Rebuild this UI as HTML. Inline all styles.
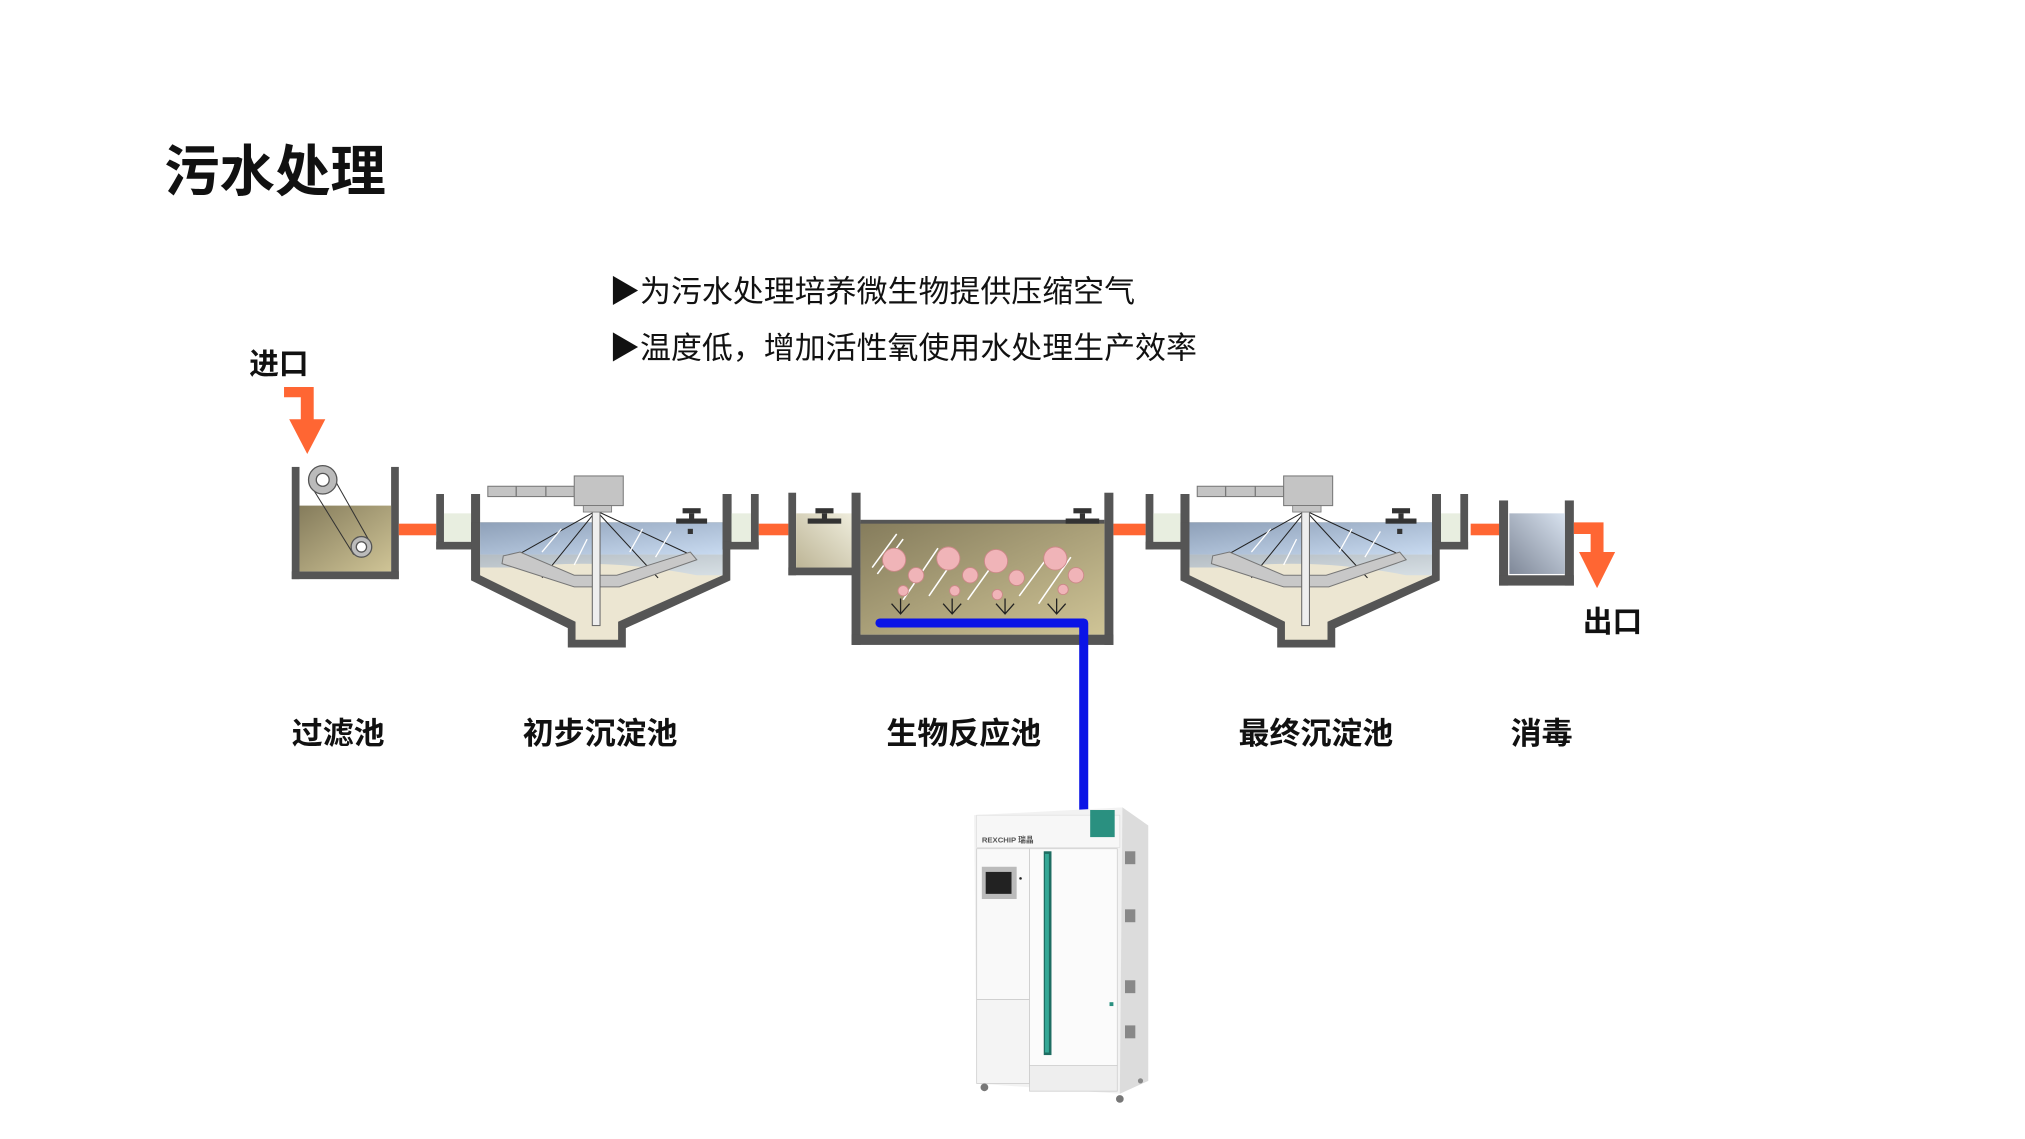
<!DOCTYPE html>
<html><head><meta charset="utf-8"><style>
html,body{margin:0;padding:0;background:#fff;}
svg{display:block}
text{font-family:"Liberation Sans","Noto Sans CJK SC",sans-serif;}
</style></head><body>
<svg width="2025" height="1139" viewBox="0 0 1557 876" xmlns="http://www.w3.org/2000/svg">
<defs>
<linearGradient id="olive" x1="0" y1="0" x2="1" y2="1"><stop offset="0" stop-color="#857c5c"/><stop offset="1" stop-color="#cfc496"/></linearGradient>
<linearGradient id="water" x1="0" y1="0" x2="1" y2="1"><stop offset="0" stop-color="#8ea0b8"/><stop offset="1" stop-color="#c8daf0"/></linearGradient>
<linearGradient id="dis" x1="0" y1="1" x2="1" y2="0"><stop offset="0" stop-color="#7f8898"/><stop offset="1" stop-color="#d8e2ef"/></linearGradient>
<linearGradient id="beige" x1="0" y1="1" x2="1" y2="0"><stop offset="0" stop-color="#bdb596"/><stop offset="1" stop-color="#f0eede"/></linearGradient>
<g id="clar">
  <rect x="338" y="383" width="6" height="43" fill="#555"/>
  <rect x="338" y="420" width="34" height="6" fill="#555"/>
  <rect x="344" y="398" width="21" height="22" fill="#e8eee0"/>
  <rect x="365" y="383" width="7" height="43" fill="#555"/>
  <path d="M365,405 H566 V450 L485,487 V502 H440 V487 L365,450 Z" fill="#555"/>
  <path d="M372,405 H560 V446 L479,482 V496 H446 V482 L372,446 Z" fill="#ece6d2"/>
  <path d="M372,405 H560 V430 H372 Z" fill="url(#water)"/>
  <path d="M372,430 H560 V446 L540,446 Q470,432 400,440 L372,440 Z" fill="url(#water)" opacity="0.6"/>
  <rect x="560" y="383" width="7" height="43" fill="#555"/>
  <rect x="560" y="420" width="28" height="6" fill="#555"/>
  <rect x="567" y="398" width="15" height="22" fill="#e8eee0"/>
  <rect x="582" y="383" width="6" height="43" fill="#555"/>
  <rect x="529" y="394" width="14" height="4" fill="#333"/><rect x="534" y="398" width="4" height="4" fill="#333"/><rect x="524" y="402" width="24" height="4" fill="#333"/>
  <rect x="533" y="410" width="4" height="4" fill="#333"/>
  <g stroke="#222" stroke-width="0.8" fill="none">
    <line x1="462" y1="396" x2="398" y2="432"/><line x1="462" y1="396" x2="420" y2="448"/>
    <line x1="462" y1="396" x2="510" y2="448"/><line x1="462" y1="396" x2="535" y2="430"/>
  </g>
  <g stroke="#fff" stroke-width="1"><line x1="420" y1="428" x2="435" y2="410"/><line x1="445" y1="438" x2="455" y2="418"/><line x1="488" y1="428" x2="498" y2="410"/><line x1="508" y1="432" x2="520" y2="412"/></g>
  <path d="M390,431 L403,428 L445,446 L478,446 L535,428 L540,434 L480,455 L445,455 L389,437 Z" fill="#c8c8c8" stroke="#777" stroke-width="0.8"/>
  <rect x="459" y="392" width="6" height="93" fill="#eee" stroke="#666" stroke-width="0.8"/>
  <rect x="378" y="377" width="67" height="8" fill="#c4c4c4" stroke="#777" stroke-width="0.8"/>
  <line x1="400" y1="377" x2="400" y2="385" stroke="#777"/><line x1="423" y1="377" x2="423" y2="385" stroke="#777"/>
  <rect x="445" y="369" width="38" height="23" fill="#c4c4c4" stroke="#777" stroke-width="0.8"/>
  <rect x="452" y="392" width="22" height="5" fill="#c4c4c4" stroke="#777" stroke-width="0.6"/>
</g>
</defs>
<rect width="1557" height="876" fill="#fff"/>
<g transform="scale(0.992)">
<text x="127" y="148" font-size="43" font-weight="bold" fill="#111">污水处理</text>
<text x="472" y="234" font-size="24" fill="#111">▶为污水处理培养微生物提供压缩空气</text>
<text x="472" y="278" font-size="24" fill="#111">▶温度低，增加活性氧使用水处理生产效率</text>
<text x="193" y="290" font-size="23" font-weight="bold" fill="#111">进口</text>
<path d="M220,300 H243 V325 H252 L238,352 L224,325 H233 V308 H220 Z" fill="#ff6633"/>
<rect x="226" y="362" width="6" height="87" fill="#555"/><rect x="303" y="362" width="6" height="87" fill="#555"/>
<rect x="226" y="443" width="83" height="6" fill="#555"/>
<rect x="232" y="392" width="71" height="51" fill="url(#olive)"/>
<line x1="243" y1="380" x2="274" y2="430" stroke="#333" stroke-width="0.8"/><line x1="257" y1="368" x2="287" y2="421" stroke="#333" stroke-width="0.8"/>
<circle cx="250" cy="372" r="11" fill="#bbb" stroke="#555"/><circle cx="250" cy="372" r="5" fill="#fff" stroke="#555"/>
<circle cx="280" cy="424" r="8" fill="#bbb" stroke="#555"/><circle cx="280" cy="424" r="4" fill="#fff" stroke="#555"/>
<rect x="309" y="406" width="29" height="9" fill="#ff6633"/>
<rect x="588" y="406" width="23" height="9" fill="#ff6633"/>
<rect x="863" y="406" width="25" height="9" fill="#ff6633"/>
<rect x="1140" y="406" width="22" height="9" fill="#ff6633"/>
<use href="#clar"/>
<use href="#clar" x="550"/>
<rect x="611" y="382" width="6" height="64" fill="#555"/>
<rect x="611" y="440" width="56" height="6" fill="#555"/>
<rect x="617" y="398" width="45" height="42" fill="url(#beige)"/>
<rect x="632" y="394" width="14" height="4" fill="#333"/><rect x="637" y="398" width="4" height="4" fill="#333"/><rect x="626" y="402" width="26" height="4" fill="#333"/>
<rect x="660" y="382" width="7" height="118" fill="#555"/>
<rect x="856" y="382" width="7" height="118" fill="#555"/>
<rect x="660" y="492" width="203" height="8" fill="#555"/>
<rect x="667" y="405" width="189" height="87" fill="url(#olive)"/>
<rect x="667" y="403" width="189" height="3" fill="#555"/>
<rect x="832" y="394" width="14" height="4" fill="#333"/><rect x="837" y="398" width="4" height="4" fill="#333"/><rect x="826" y="402" width="26" height="4" fill="#333"/>
<g stroke="#fff" stroke-width="1.2">
<line x1="676" y1="440" x2="695" y2="414"/><line x1="680" y1="445" x2="700" y2="418"/>
<line x1="700" y1="465" x2="727" y2="425"/><line x1="720" y1="462" x2="742" y2="430"/>
<line x1="750" y1="465" x2="775" y2="430"/><line x1="790" y1="462" x2="815" y2="428"/><line x1="805" y1="468" x2="830" y2="432"/>
</g>
<g fill="#f0b4b8" stroke="#c88" stroke-width="0.7">
<circle cx="693" cy="434" r="9"/><circle cx="710" cy="446" r="6"/><circle cx="700" cy="458" r="4"/>
<circle cx="735" cy="433" r="9"/><circle cx="752" cy="446" r="6"/><circle cx="740" cy="458" r="4"/>
<circle cx="772" cy="435" r="9"/><circle cx="788" cy="448" r="6"/><circle cx="773" cy="461" r="4"/>
<circle cx="818" cy="433" r="9"/><circle cx="834" cy="446" r="6"/><circle cx="824" cy="457" r="4"/>
</g>
<g stroke="#222" stroke-width="1" fill="none">
<path d="M691,468 L698,476 L705,468 M698,476 V464"/><path d="M731,468 L738,476 L745,468 M738,476 V464"/>
<path d="M772,468 L779,476 L786,468 M779,476 V464"/><path d="M812,468 L819,476 L826,468 M819,476 V464"/>
</g>
<path d="M682,483 H840 V628" stroke="#0a14e6" stroke-width="7" fill="none" stroke-linejoin="round" stroke-linecap="round"/>
<rect x="1162" y="388" width="7" height="66" fill="#555"/><rect x="1213" y="388" width="7" height="66" fill="#555"/>
<rect x="1162" y="446" width="58" height="8" fill="#555"/>
<rect x="1170" y="398" width="43" height="47" fill="url(#dis)"/>
<path d="M1220,405 H1243 V428 H1252 L1238,456 L1224,428 H1233 V414 H1220 Z" fill="#ff6633"/>
<text x="1227" y="490" font-size="23" font-weight="bold" fill="#111">出口</text>
<g font-size="24" font-weight="bold" fill="#111" text-anchor="middle">
<text x="262" y="577">过滤池</text><text x="465" y="577">初步沉淀池</text><text x="747" y="577">生物反应池</text>
<text x="1020" y="577">最终沉淀池</text><text x="1195" y="577">消毒</text>
</g>
<path d="M755,632 L870,626 L890,640 L890,838 L868,848 L757,840 Z" fill="#f2f2f2"/>
<path d="M870,626 L890,640 L890,838 L868,848 Z" fill="#dcdcdc"/>
<rect x="757" y="632" width="111" height="25" fill="#f7f7f7" stroke="#ddd" stroke-width="0.5"/>
<rect x="845" y="628" width="19" height="21" fill="#2a9080"/>
<text x="761" y="653" font-size="6" font-weight="bold" fill="#555">REXCHIP 瑞晶</text>
<rect x="757" y="658" width="41" height="117" fill="#f9f9f9" stroke="#ccc" stroke-width="0.6"/>
<rect x="757" y="775" width="41" height="65" fill="#f4f4f4" stroke="#ccc" stroke-width="0.6"/>
<rect x="798" y="658" width="68" height="168" fill="#fbfbfb" stroke="#ccc" stroke-width="0.6"/>
<rect x="798" y="826" width="68" height="20" fill="#eee" stroke="#ccc" stroke-width="0.6"/>
<rect x="809" y="660" width="6" height="158" fill="#1e6d62"/><rect x="810" y="662" width="3" height="154" fill="#35a896"/>
<rect x="761" y="672" width="27" height="25" fill="#bbb"/><rect x="764" y="676" width="20" height="17" fill="#222"/>
<circle cx="791" cy="681" r="1" fill="#222"/>
<g fill="#888"><rect x="872" y="660" width="8" height="10"/><rect x="872" y="705" width="8" height="10"/><rect x="872" y="760" width="8" height="10"/><rect x="872" y="795" width="8" height="10"/></g>
<rect x="860" y="777" width="3" height="3" fill="#2a9080"/>
<circle cx="763" cy="843" r="3" fill="#777"/><circle cx="868" cy="852" r="3" fill="#777"/><circle cx="884" cy="838" r="2" fill="#888"/>
</g>
</svg>
</body></html>
